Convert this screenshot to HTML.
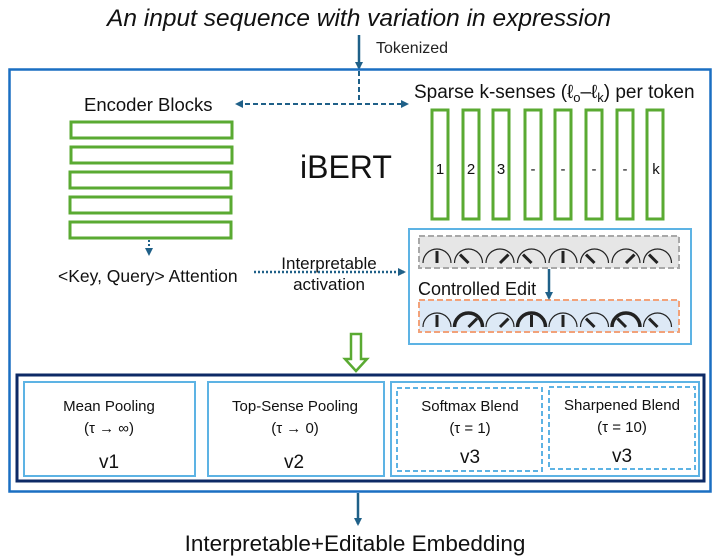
<!DOCTYPE html>
<html><head><meta charset="utf-8"><style>
html,body{margin:0;padding:0;background:#fff;}
svg{display:block;font-family:"Liberation Sans",sans-serif;}
</style></head><body>
<svg width="718" height="556" viewBox="0 0 718 556" xmlns="http://www.w3.org/2000/svg">
<defs>
<marker id="ah" markerWidth="8" markerHeight="8" refX="6" refY="4" orient="auto" markerUnits="userSpaceOnUse"><path d="M0,0 L8,4 L0,8 Z" fill="#1f6088"/></marker>
<marker id="ahs" markerWidth="8" markerHeight="8" refX="2" refY="4" orient="auto" markerUnits="userSpaceOnUse"><path d="M8,0 L0,4 L8,8 Z" fill="#1f6088"/></marker>
</defs>
<text x="359" y="26" font-size="24.5" font-style="italic" text-anchor="middle" fill="#111">An input sequence with variation in expression</text>
<line x1="359" y1="35" x2="359" y2="68" stroke="#1f6088" stroke-width="2.5" marker-end="url(#ah)"/>
<text x="376" y="53" font-size="16" fill="#222">Tokenized</text>
<rect x="9.5" y="69.5" width="701" height="422" fill="none" stroke="#1a6fc2" stroke-width="2.5"/>
<line x1="359" y1="71" x2="359" y2="104" stroke="#1f6088" stroke-width="2" stroke-dasharray="5,3"/>
<line x1="237" y1="104" x2="407" y2="104" stroke="#1f6088" stroke-width="2" stroke-dasharray="5,3" marker-start="url(#ahs)" marker-end="url(#ah)"/>
<text x="84" y="111" font-size="18.5" fill="#111">Encoder Blocks</text>
<g fill="none" stroke="#5aaa32" stroke-width="3">
<rect x="71" y="122" width="161" height="16"/>
<rect x="71" y="147" width="161" height="16"/>
<rect x="70" y="172" width="161" height="16"/>
<rect x="70" y="197" width="161" height="16"/>
<rect x="70" y="222" width="161" height="16"/>
</g>
<text x="300" y="178" font-size="32" fill="#111">iBERT</text>
<line x1="149" y1="240" x2="149" y2="254" stroke="#1f6088" stroke-width="2" stroke-dasharray="2,2" marker-end="url(#ah)"/>
<text x="58" y="282" font-size="17.5" fill="#111">&lt;Key, Query&gt; Attention</text>
<text x="329" y="269" font-size="17" text-anchor="middle" fill="#111">Interpretable</text>
<text x="329" y="290" font-size="17" text-anchor="middle" fill="#111">activation</text>
<line x1="254" y1="272" x2="404" y2="272" stroke="#1f6088" stroke-width="2.5" stroke-dasharray="2,2" marker-end="url(#ah)"/>
<text x="414" y="98" font-size="19" fill="#111">Sparse k-senses (ℓ<tspan font-size="13" dy="4">o</tspan><tspan dy="-4">–ℓ</tspan><tspan font-size="13" dy="4">k</tspan><tspan dy="-4">) per token</tspan></text>
<g fill="none" stroke="#5aaa32" stroke-width="3">
<rect x="432" y="110" width="16" height="109"/>
<rect x="463" y="110" width="16" height="109"/>
<rect x="493" y="110" width="16" height="109"/>
<rect x="525" y="110" width="16" height="109"/>
<rect x="555" y="110" width="16" height="109"/>
<rect x="586" y="110" width="16" height="109"/>
<rect x="617" y="110" width="16" height="109"/>
<rect x="647" y="110" width="16" height="109"/>
</g>
<g font-size="15" fill="#111" text-anchor="middle">
<text x="440" y="174">1</text><text x="471" y="174">2</text><text x="501" y="174">3</text>
<text x="533" y="174">-</text><text x="563" y="174">-</text><text x="594" y="174">-</text><text x="625" y="174">-</text><text x="656" y="174">k</text>
</g>
<rect x="409" y="229" width="282" height="115" fill="#fff" stroke="#5db3e4" stroke-width="2"/>
<rect x="419" y="236" width="260" height="32" fill="#e6e6e6" stroke="#a8a8a8" stroke-width="2" stroke-dasharray="6,3"/>
<rect x="419" y="300" width="260" height="32" fill="#dde9f6" stroke="#f2a27a" stroke-width="2" stroke-dasharray="6,3"/>
<text x="418" y="295" font-size="18" fill="#111">Controlled Edit</text>
<line x1="549" y1="269" x2="549" y2="298" stroke="#1f6088" stroke-width="2.5" marker-end="url(#ah)"/>
<g id="g1" fill="none" stroke="#222" stroke-width="1.2"></g>
<g id="g2" fill="none" stroke="#222" stroke-width="1.2"></g>
<path d="M351,334 H361 V359 H367 L356,371 L345,359 H351 Z" fill="#fff" stroke="#5aaa32" stroke-width="2.5"/>
<rect x="17" y="375" width="687" height="106" fill="#fff" stroke="#0d2a66" stroke-width="3"/>
<g fill="none" stroke="#5db3e4" stroke-width="2">
<rect x="24" y="382" width="171" height="94"/>
<rect x="208" y="382" width="176" height="94"/>
<rect x="391" y="382" width="308" height="94"/>
</g>
<g fill="none" stroke="#5db3e4" stroke-width="2" stroke-dasharray="5,3">
<rect x="397" y="388" width="145" height="83"/>
<rect x="549" y="387" width="146" height="82"/>
</g>
<g font-size="15" fill="#111" text-anchor="middle">
<text x="109" y="411">Mean Pooling</text><text x="109" y="433">(τ → ∞)</text>
<text x="295" y="411">Top-Sense Pooling</text><text x="295" y="433">(τ → 0)</text>
<text x="470" y="411">Softmax Blend</text><text x="470" y="433">(τ = 1)</text>
<text x="622" y="410">Sharpened Blend</text><text x="622" y="432">(τ = 10)</text>
</g>
<g font-size="19" fill="#111" text-anchor="middle">
<text x="109" y="468">v1</text><text x="294" y="468">v2</text><text x="470" y="463">v3</text><text x="622" y="462">v3</text>
</g>
<line x1="358" y1="493" x2="358" y2="524" stroke="#1f6088" stroke-width="2.5" marker-end="url(#ah)"/>
<text x="355" y="551" font-size="22.5" text-anchor="middle" fill="#111">Interpretable+Editable Embedding</text>
<script>
(function(){
 var ns="http://www.w3.org/2000/svg";
 var a1=[90,135,45,135,90,135,45,135];
 var a2=[90,45,45,90,90,135,135,135];
 var bold=[0,1,0,1,0,0,1,0];
 function draw(gid,cy,angs,bd){
  var g=document.getElementById(gid);
  for(var i=0;i<8;i++){
   var cx=437+i*31.5,r=14;
   var p=document.createElementNS(ns,"path");
   p.setAttribute("d","M"+(cx-r)+","+cy+" A"+r+","+r+" 0 0 1 "+(cx+r)+","+cy);
   if(bd&&bd[i])p.setAttribute("stroke-width","3.5");
   g.appendChild(p);
   var t=angs[i]*Math.PI/180;
   var n=document.createElementNS(ns,"line");
   n.setAttribute("x1",cx);n.setAttribute("y1",cy);
   n.setAttribute("x2",cx+Math.cos(t)*12);n.setAttribute("y2",cy-Math.sin(t)*12);
   n.setAttribute("stroke-width","3");
   g.appendChild(n);
  }
 }
 draw("g1",263,a1,null);
 draw("g2",327,a2,bold);
})();
</script>
</svg>
</body></html>
